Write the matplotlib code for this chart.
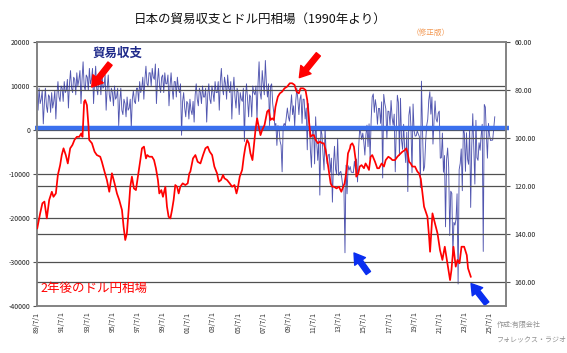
import matplotlib
matplotlib.use('Agg')
import matplotlib.pyplot as plt
from matplotlib.ticker import FuncFormatter
import numpy as np

plt.rcParams['font.family'] = ['Noto Sans CJK JP', 'DejaVu Sans']

# ---------------- data ----------------
# Monthly trade balance (100 million yen), starting Jul 1989
trade_start_year = 1989.5
trade_1989 = [8000, 4500, 9500, 6000, 7000, 9000]
trade_1990 = [1400, 6000, 9500, 5500, 4000, 8000, 7500, 4000, 8500, 5000, 6500, 9000]
trade_1991 = [2500, 8000, 11000, 7500, 6500, 10000, 9500, 6500, 11000, 8500, 9000, 11500]
trade_1992 = [5000, 10500, 13500, 9500, 8500, 12000, 11500, 8000, 13000, 10000, 11500, 13500]
trade_1993 = [6000, 11500, 15500, 10000, 9000, 12500, 12000, 9000, 14000, 10500, 11500, 14000]
trade_1994 = [6000, 11000, 14500, 9500, 8000, 12000, 11000, 8000, 13000, 9500, 10000, 12500]
trade_1995 = [4500, 9500, 12500, 8000, 6500, 9500, 8500, 5500, 10000, 7000, 7500, 9500]
trade_1996 = [1000, 6500, 9500, 4500, 3500, 7000, 6000, 3000, 7500, 4500, 5000, 7000]
trade_1997 = [500, 7000, 9000, 6500, 6000, 9500, 9500, 6500, 11000, 8500, 9500, 12000]
trade_1998 = [7000, 11500, 14500, 10500, 10000, 13000, 13000, 10000, 14000, 12000, 11500, 15000]
trade_1999 = [6000, 11000, 14000, 10000, 8500, 12000, 12500, 8500, 13000, 10500, 10500, 12500]
trade_2000 = [5500, 10000, 13000, 9500, 7000, 11000, 11000, 7500, 12000, 9500, 8500, 10500]
trade_2001 = [-1200, 6500, 8500, 5000, 3000, 6500, 6000, 2500, 7000, 4500, 3500, 6500]
trade_2002 = [1800, 8000, 10500, 7000, 5500, 9500, 8500, 6000, 10000, 7500, 7500, 9500]
trade_2003 = [1800, 8000, 10500, 7000, 6000, 10000, 8500, 6500, 11000, 8500, 8500, 11000]
trade_2004 = [4500, 11000, 14000, 9500, 8000, 12000, 10500, 7000, 12500, 9500, 8500, 11000]
trade_2005 = [2500, 9000, 12000, 7500, 5000, 9500, 8500, 3500, 8500, 7000, 6500, 9500]
trade_2006 = [-2600, 7500, 10500, 7000, 3000, 8000, 7500, 3000, 10000, 8500, 8000, 10000]
trade_2007 = [2500, 10500, 15500, 8500, 7000, 13500, 10500, 8000, 15800, 10500, 7500, 10500]
trade_2008 = [1000, 10000, 10500, 6000, 4000, 1000, 1500, -3500, 1000, 300, -2500, -3500]
trade_2009 = [-9500, 800, 1500, 800, 3000, 5000, 3000, 2000, 5000, 8000, 3500, 5500]
trade_2010 = [800, 6500, 9500, 7000, 3500, 7000, 8000, 1500, 7000, 7000, 2500, 5000]
trade_2011 = [-4500, 6000, 2000, -4600, -8500, 500, 700, -7700, 3000, -2700, -6900, -2100]
trade_2012 = [-14800, 300, -1000, -5300, -9100, 600, -5200, -7700, -5700, -5500, -9600, -6400]
trade_2013 = [-16400, -7800, -3700, -8900, -10000, -1900, -10300, -9700, -9400, -11000, -13000, -13100]
trade_2014 = [-27900, -8000, -14500, -8100, -9100, -8300, -9600, -9600, -9700, -7100, -8900, -6600]
trade_2015 = [-11800, -4300, 200, -600, -2200, -700, -2700, -5700, -1100, 1100, -3800, 1400]
trade_2016 = [-6500, 2400, 7500, 8200, 4000, 6900, 5100, 1300, 4900, 4900, 1500, 6400]
trade_2017 = [-10900, 8100, 6100, 4800, -2000, 4300, 4200, 1100, 6700, 2800, 1100, 3600]
trade_2018 = [-9500, 300, 7900, 6300, -5800, 7200, -2300, -4400, 1300, -4500, -7400, -500]
trade_2019 = [-14000, 3300, 5300, 600, -9700, 5900, -200, -1400, -1300, -200, -900, -1500]
trade_2020 = [-13100, 11100, 100, -9300, -8300, -2700, 1000, 2400, 6800, 8700, 3600, 7500]
trade_2021 = [-3200, 2100, 6600, 2500, 1800, 3800, 4300, -6400, -6300, -700, -9600, -5800]
trade_2022 = [-22000, -6700, -4100, -8500, -24000, -13900, -14400, -28200, -21000, -21600, -20300, -14500]
trade_2023 = [-35000, -9000, -7600, -4300, -13800, 400, -780, -9400, -620, -6600, -7800, 620]
trade_2024 = [-17600, -3800, 3700, -4700, -12300, 2200, -6300, -6900, -2900, -4600, -1200, 1300]
trade_2025 = [-27600, 5800, 5200, -1200, -6400, 1500, -1200, -2400, -2300, -2300, 300, 3000]

trade_balance = (trade_1989 + trade_1990 + trade_1991 + trade_1992 + trade_1993 + trade_1994
                 + trade_1995 + trade_1996 + trade_1997 + trade_1998 + trade_1999 + trade_2000
                 + trade_2001 + trade_2002 + trade_2003 + trade_2004 + trade_2005 + trade_2006
                 + trade_2007 + trade_2008 + trade_2009 + trade_2010 + trade_2011 + trade_2012
                 + trade_2013 + trade_2014 + trade_2015 + trade_2016 + trade_2017 + trade_2018
                 + trade_2019 + trade_2020 + trade_2021 + trade_2022 + trade_2023 + trade_2024
                 + trade_2025)

# USD/JPY two years later, plotted at the date (decimal year) two years earlier
rate_dates = [1989.52, 1989.75, 1989.93, 1990.09, 1990.28, 1990.47, 1990.68, 1990.81, 1991.00, 1991.16,
              1991.34, 1991.47, 1991.61, 1991.79, 1991.95, 1992.14, 1992.32, 1992.48, 1992.67, 1992.86,
              1993.02, 1993.12, 1993.25, 1993.33, 1993.47, 1993.60, 1993.65, 1993.87, 1994.08, 1994.26,
              1994.53, 1994.66, 1994.87, 1995.06, 1995.25, 1995.46, 1995.67, 1995.86, 1996.04, 1996.26,
              1996.39, 1996.52, 1996.65, 1996.79, 1996.92, 1997.05, 1997.21, 1997.37, 1997.53, 1997.72,
              1997.85, 1998.01, 1998.17, 1998.27, 1998.43, 1998.65, 1998.81, 1998.96, 1999.12, 1999.23,
              1999.39, 1999.52, 1999.71, 1999.84, 1999.97, 2000.11, 2000.24, 2000.37, 2000.50, 2000.64,
              2000.77, 2000.90, 2001.09, 2001.30, 2001.49, 2001.62,
              2001.70, 2001.91, 2002.10, 2002.28, 2002.50, 2002.71, 2002.90, 2003.08, 2003.24, 2003.43,
              2003.61, 2003.82, 2003.96, 2004.14, 2004.30, 2004.41, 2004.62, 2004.83, 2005.02, 2005.21,
              2005.37, 2005.47, 2005.63, 2005.82, 2005.95, 2006.08, 2006.22, 2006.35, 2006.48, 2006.64,
              2006.75, 2006.88, 2007.01, 2007.14, 2007.28, 2007.41, 2007.60, 2007.81, 2007.94, 2008.07,
              2008.21, 2008.34, 2008.47, 2008.66, 2008.82, 2009.00, 2009.19, 2009.40, 2009.61, 2009.80,
              2009.99, 2010.15, 2010.33, 2010.46, 2010.68, 2010.86, 2011.00, 2011.13, 2011.26, 2011.40,
              2011.53, 2011.66, 2011.85, 2012.01, 2012.19, 2012.32, 2012.46, 2012.59, 2012.72, 2012.86,
              2012.99, 2013.12, 2013.33, 2013.52, 2013.71, 2013.86, 2013.97, 2014.13, 2014.24, 2014.40,
              2014.45, 2014.58, 2014.71, 2014.85, 2014.90, 2015.06, 2015.17, 2015.32, 2015.51, 2015.64,
              2015.78, 2015.91, 2016.04, 2016.17, 2016.39, 2016.57, 2016.71, 2016.92, 2017.10, 2017.24,
              2017.45, 2017.64, 2017.77, 2017.98, 2018.17, 2018.30, 2018.57, 2018.78, 2018.88, 2018.99,
              2019.10, 2019.23, 2019.36, 2019.57, 2019.76, 2019.89, 2020.03, 2020.29, 2020.56, 2020.69,
              2020.77, 2020.96, 2021.09, 2021.36, 2021.56, 2021.75, 2021.94, 2022.15, 2022.36, 2022.47,
              2022.63, 2022.81, 2022.95, 2023.11, 2023.27, 2023.48, 2023.69, 2023.79, 2024.01]
rate_values = [137.6, 131.4, 127.2, 126.5, 133.5, 125.8, 122.4, 124.5, 123.1, 115.4,
               111.3, 107.1, 104.3, 107.1, 110.6, 104.3, 102.9, 100.8, 99.5, 99.5,
               98.1, 99.5, 84.9, 84.2, 86.3, 95.3, 100.8, 102.2, 105.7, 107.1,
               107.8, 109.9, 114.0, 117.5, 122.4, 114.7, 118.9, 123.1, 125.8, 130.0,
               137.0, 142.5, 139.7, 130.0, 120.3, 116.1, 121.0, 121.7, 116.1, 109.2,
               104.3, 103.6, 108.5, 107.1, 107.8, 107.8, 109.2, 112.6, 117.5, 123.1,
               121.7, 124.5, 120.3, 128.6, 132.8, 133.5, 130.0, 125.8, 119.6, 120.3,
               123.1, 120.3, 118.9, 119.6, 118.9, 114.7,
               114.0, 108.5, 107.1, 109.9, 110.6, 107.1, 104.3, 103.6, 105.7, 107.1,
               111.9, 114.7, 118.2, 117.5, 115.4, 116.8, 117.5, 118.9, 120.3, 119.6,
               123.1, 121.0, 116.1, 113.3, 107.8, 103.6, 100.8, 102.2, 106.4, 109.2,
               103.6, 96.7, 91.8, 95.3, 98.8, 96.7, 94.6, 89.0, 88.3, 92.5,
               91.8, 92.5, 87.0, 82.8, 81.4, 80.7, 79.3, 78.6, 77.2, 77.2,
               77.9, 80.7, 81.4, 79.3, 79.3, 80.0, 84.2, 92.5, 99.5, 98.8,
               98.8, 100.8, 102.2, 101.5, 102.2, 102.2, 105.0, 109.2, 114.0, 118.9,
               120.3, 120.3, 121.0, 120.3, 122.4, 120.3, 118.9, 113.3, 106.4, 104.3,
               102.9, 102.2, 103.6, 109.2, 116.1, 114.7, 111.9, 111.3, 112.6, 110.6,
               111.9, 113.3, 107.8, 107.1, 109.9, 112.6, 112.6, 110.6, 111.9, 109.2,
               107.8, 108.5, 109.2, 109.2, 107.8, 107.1, 105.7, 105.0, 104.3, 106.4,
               109.9, 110.6, 111.9, 111.9, 114.0, 114.7, 117.0, 128.6, 132.8, 141.1,
               147.4, 131.4, 134.2, 139.7, 146.7, 150.8, 145.3, 152.2, 159.2, 155.0,
               145.3, 153.6, 150.8, 152.2, 145.3, 145.3, 148.8, 154.3, 157.8]

tick_years = [1989, 1991, 1993, 1995, 1997, 1999, 2001, 2003, 2005, 2007, 2009,
              2011, 2013, 2015, 2017, 2019, 2021, 2023, 2025]
tick_labels = ['89/7/1', '91/7/1', '93/7/1', '95/7/1', '97/7/1', '99/7/1', '01/7/1', '03/7/1',
               '05/7/1', '07/7/1', '09/7/1', '11/7/1', '13/7/1', '15/7/1', '17/7/1', '19/7/1',
               '21/7/1', '23/7/1', '25/7/1']
left_ticks = [20000, 10000, 0, -10000, -20000, -30000, -40000]
right_ticks = [60, 80, 100, 120, 140, 160]
zero_band_value = 450

# ---------------- figure ----------------
fig = plt.figure(figsize=(5.67, 3.53), dpi=100)
fig.patch.set_facecolor('white')
W, H = 567, 353
ax = fig.add_axes([37 / W, 1 - 306 / H, (506 - 37) / W, (306 - 42) / H])
ax2 = ax.twinx()

trade_x = trade_start_year + np.arange(len(trade_balance)) / 12.0
x_left, x_right = 1989.5, 2026.81

grid_color = '#505050'
for v in left_ticks[1:-1]:
    ax.axhline(v, color=grid_color, lw=0.9, zorder=1)

ax.plot(trade_x, trade_balance, color='#262c9c', lw=0.65, alpha=0.8, zorder=2)
ax.axhline(zero_band_value, xmin=-0.004, xmax=1.007, color='#3b70ee', lw=3.2,
           zorder=4, clip_on=False, solid_capstyle='butt')
ax.set_xlim(x_left, x_right)
ax.set_ylim(-40000, 20000)
ax.set_yticks(left_ticks)
ax.yaxis.set_major_formatter(FuncFormatter(lambda v, p: f"{int(v)}"))
ax.set_xticks([y + 0.5 for y in tick_years])
ax.set_xticklabels(tick_labels, rotation=90, fontsize=5, color='#333333')
ax.tick_params(axis='x', length=0, pad=4)
ax.tick_params(axis='y', length=3, width=0.8, color='#555555', labelsize=5, pad=2,
               labelcolor='#222222')

for v in right_ticks[1:]:
    ax2.axhline(v, color=grid_color, lw=0.9, zorder=1)
ax2.plot(rate_dates, rate_values, color='#ff0000', lw=1.25, zorder=5)
ax2.set_ylim(170, 60)
ax2.set_yticks(right_ticks)
ax2.yaxis.set_major_formatter(FuncFormatter(lambda v, p: f"{v:.2f}"))
ax2.tick_params(axis='y', length=3, width=0.8, color='#555555', labelsize=5, pad=3,
                labelcolor='#222222')
ax2.set_xlim(x_left, x_right)

for a in (ax, ax2):
    for s in a.spines.values():
        s.set_color('#808080')
        s.set_linewidth(1.1)
ax.set_zorder(1)
ax2.set_zorder(2)
ax2.patch.set_visible(False)

# arrows
def arrow(tail, tip, color):
    ax.annotate('', xy=tip, xytext=tail,
                arrowprops=dict(arrowstyle='simple,head_width=0.95,head_length=0.75,tail_width=0.38',
                                color=color, mutation_scale=10, shrinkA=0, shrinkB=0),
                zorder=6, annotation_clip=False)

arrow((1995.31, 15090), (1993.85, 9770), '#ff0000')
arrow((2011.88, 17200), (2010.37, 11900), '#ff0000')
arrow((2015.86, -32500), (2014.72, -27950), '#0a2ef0')
arrow((2025.28, -39450), (2024.03, -34900), '#0a2ef0')

# texts
fig.text(260 / W, 1 - 19 / H, '日本の貿易収支とドル円相場（1990年より）', ha='center', va='center',
         fontsize=9, color='#111111')
fig.text(431 / W, 1 - 33 / H, '（修正版）', ha='center', va='center', fontsize=5.5, color='#f39a55')
fig.text(117 / W, 1 - 53 / H, '貿易収支', ha='center', va='center', fontsize=9,
         color='#1f2a8a', fontweight='bold')
fig.text(40 / W, 1 - 288 / H, '2年後のドル円相場', ha='left', va='center', fontsize=9, color='#ff0000')
fig.text(497 / W, 1 - 325 / H, '作成:有限会社', ha='left', va='center', fontsize=5, color='#909090')
fig.text(497 / W, 1 - 339 / H, 'フォレックス・ラジオ', ha='left', va='center', fontsize=5, color='#909090')

fig.savefig('out.png', dpi=100)
